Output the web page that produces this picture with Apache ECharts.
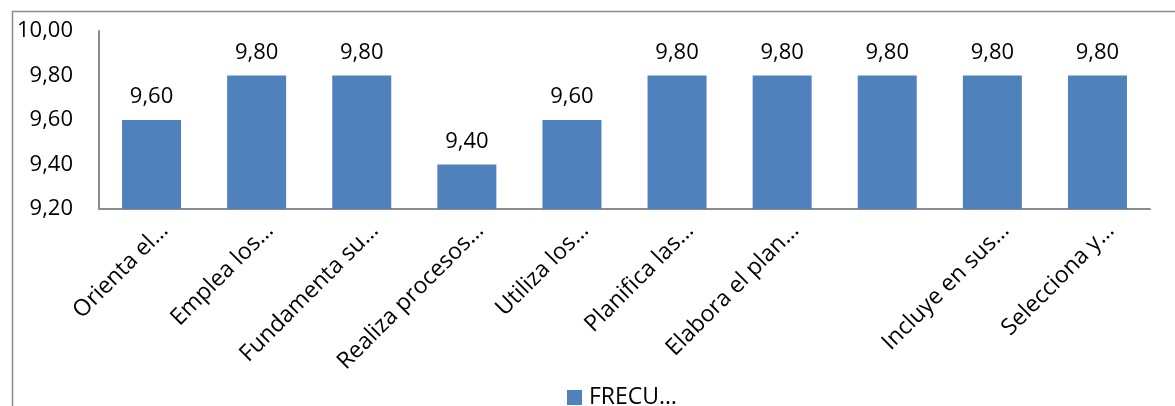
<!DOCTYPE html>
<html>
<head>
<meta charset="utf-8">
<script src="https://cdn.jsdelivr.net/npm/echarts@6/dist/echarts.min.js"></script>
<style>
  html, body { margin: 0; padding: 0; background: #fff; }
  #chart { width: 1175px; height: 406px; }
</style>
</head>
<body>
<div id="chart"></div>
<script>
// Category labels (long statements, shown shortened)
const categories = [
  'Orienta el…', 'Emplea los…', 'Fundamenta su…', 'Realiza procesos…',
  'Utiliza los…', 'Planifica las…', 'Elabora el plan…', '',
  'Incluye en sus…', 'Selecciona y…'
];
// Average score per item
const frecuencia = [9.60, 9.80, 9.80, 9.40, 9.60, 9.80, 9.80, 9.80, 9.80, 9.80];
const seriesName = 'FRECU…';
const yMin = 9.2, yMax = 10.0, yStep = 0.2;

const fmt = v => Number(v).toFixed(2).replace('.', ',');
const FONT = '"Open Sans", sans-serif';

const chart = echarts.init(document.getElementById('chart'), null, { renderer: 'canvas' });
chart.setOption({
  animation: false,
  backgroundColor: '#ffffff',
  graphic: [{
    type: 'rect',
    left: 10, top: 9,
    shape: { width: 1300, height: 600 },
    style: { fill: 'none', stroke: '#8c8c8c', lineWidth: 1.5 },
    silent: true, z: -1
  }],
  grid: { left: 99, right: 25, top: 31, bottom: 197, containLabel: false },
  legend: {
    left: 567, top: 386, padding: 0,
    itemWidth: 15, itemHeight: 15,
    textStyle: { fontFamily: FONT, fontSize: 23, color: '#000', padding: [0, 0, 0, 2] },
    data: [{ name: seriesName, icon: 'rect' }]
  },
  xAxis: {
    type: 'category',
    data: categories,
    axisLine: { show: true, lineStyle: { color: '#8c8c8c', width: 2 } },
    axisTick: { show: false },
    axisLabel: {
      interval: 0, rotate: 45, margin: 5,
      verticalAlign: 'top', lineHeight: 23, padding: [7, 0, 0, 0],
      fontFamily: FONT, fontSize: 23, color: '#000'
    }
  },
  yAxis: {
    type: 'value',
    min: yMin, max: yMax, interval: yStep,
    splitLine: { show: false },
    axisLine: { show: true, lineStyle: { color: '#8c8c8c', width: 2 } },
    axisTick: { show: false },
    axisLabel: {
      margin: 26, fontFamily: FONT, fontSize: 22, color: '#000',
      formatter: fmt
    }
  },
  series: [{
    name: seriesName,
    type: 'bar',
    data: frecuencia,
    barWidth: 59,
    itemStyle: { color: '#4f81bd' },
    label: {
      show: true, position: 'top', distance: 12,
      fontFamily: FONT, fontSize: 22, color: '#000',
      formatter: p => fmt(p.value)
    }
  }]
});
</script>
</body>
</html>
